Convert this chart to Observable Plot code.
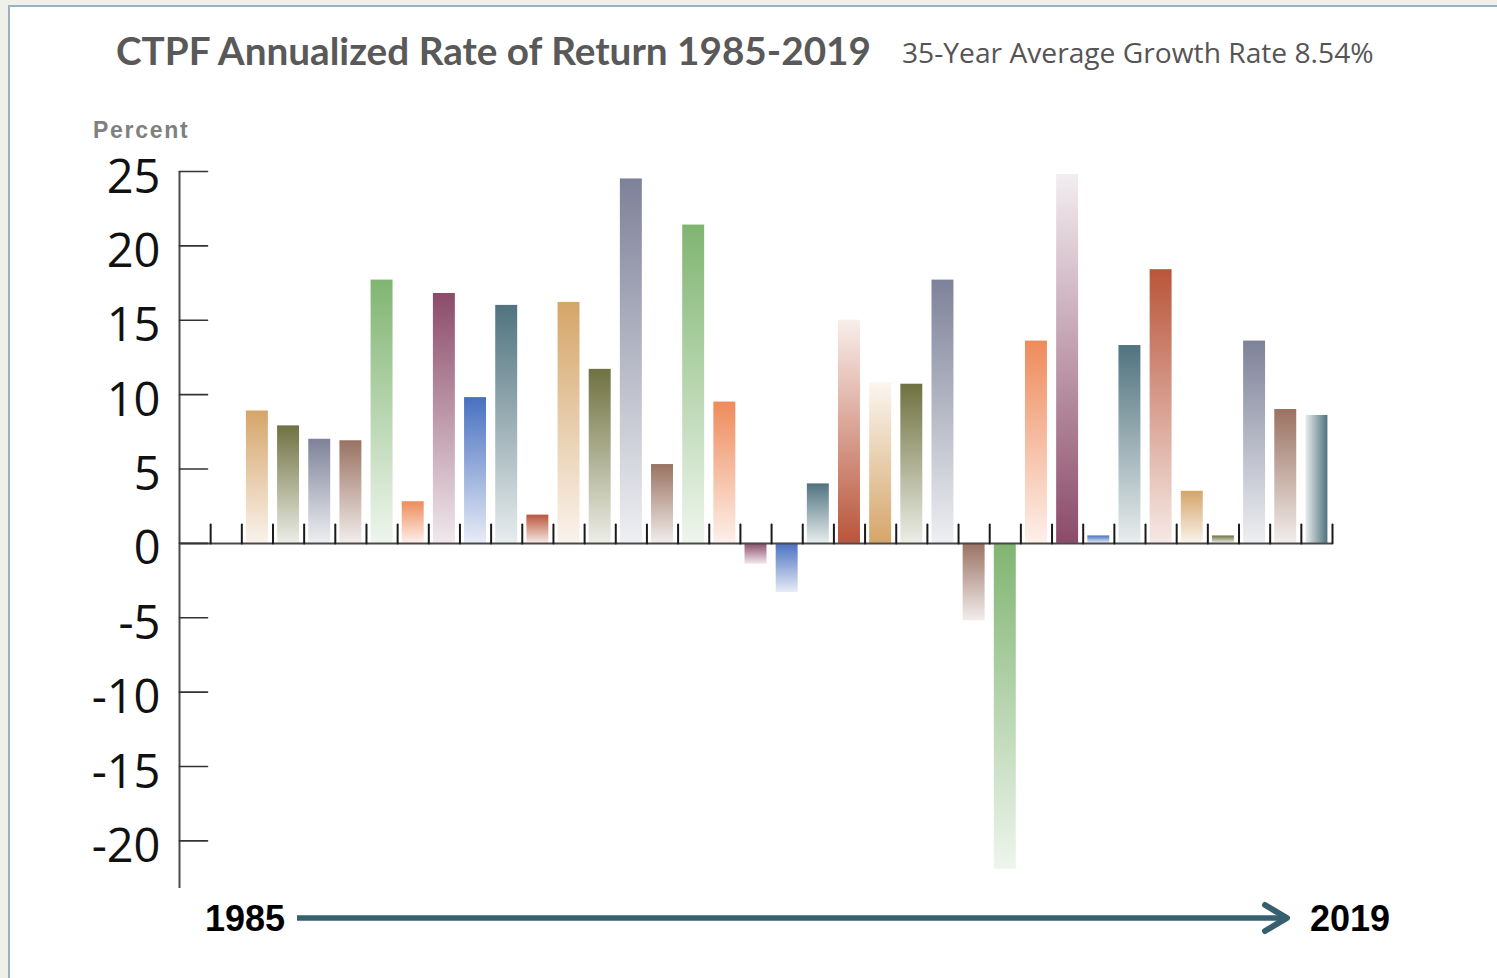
<!DOCTYPE html>
<html>
<head>
<meta charset="utf-8">
<script src="https://cdn.jsdelivr.net/npm/d3@7"></script>
<script src="https://cdn.jsdelivr.net/npm/@observablehq/plot@0.6"></script>
<style>
  html, body { margin: 0; padding: 0; background: #f0f0eb; width: 1497px; height: 978px; overflow: hidden; }
  #frame { position: absolute; left: 8px; top: 5px; width: 1600px; height: 1100px; background: #fff;
           border-left: 2px solid #93b3c2; border-top: 2px solid #93b3c2; }
  #chart { position: absolute; left: 0; top: 0; }
  #overlay { position: absolute; left: 0; top: 0; pointer-events: none; }
</style>
</head>
<body>
<div id="frame"></div>
<div id="chart"></div>
<svg id="overlay" width="1497" height="978"></svg>
<script>
// ---- data ----
const years = [1985, 1986, 1987, 1988, 1989, 1990, 1991, 1992, 1993, 1994,
               1995, 1996, 1997, 1998, 1999, 2000, 2001, 2002, 2003, 2004,
               2005, 2006, 2007, 2008, 2009, 2010, 2011, 2012, 2013, 2014,
               2015, 2016, 2017, 2018, 2019];
const returns = [8.9, 7.9, 7.0, 6.9, 17.7, 2.8, 16.8, 9.8, 16.0, 1.9,
                 16.2, 11.7, 24.5, 5.3, 21.4, 9.5, -1.4, -3.3, 4.0, 15.0,
                 10.8, 10.7, 17.7, -5.2, -21.9, 13.6, 24.8, 0.5, 13.3, 18.4,
                 3.5, 0.5, 13.6, 9.0, 8.6];
const yTicks = [25, 20, 15, 10, 5, 0, -5, -10, -15, -20];
const titleText = "CTPF Annualized Rate of Return 1985-2019";
const subtitleText = "35-Year Average Growth Rate 8.54%";
const yLabel = "Percent";

// ---- styles ----
const palette = ["#d5a569", "#6f7240", "#7e8299", "#9a7262", "#80b571",
                 "#ee8b5b", "#8b4b69", "#4870c0", "#50737f", "#b9553a"];
const colorOverride = {2019: "#50737f"};
const lightTopYears = [2004, 2005, 2011];
const sidewaysYears = [2019];

const data = years.map((year, i) => ({year, value: returns[i], i}));
const xDomain = [years[0] - 2.5, years[years.length - 1] + 0.5];
const bandEdges = d3.range(xDomain[0] + 1, xDomain[1] + 0.01, 1);

const lineShape = {draw(ctx, l) { ctx.moveTo(0, 0); ctx.lineTo(0, -l); }};

const chart = Plot.plot({
  width: 1497,
  height: 900,
  marginTop: 171,
  marginBottom: 12,
  marginLeft: 179,
  marginRight: 165,
  style: {background: "transparent", overflow: "visible"},
  x: {domain: xDomain, axis: null},
  y: {domain: [-23.2, 25], axis: null},
  color: {type: "identity"},
  marks: [
    Plot.rectY(data, {
      x1: d => d.year - 0.5, x2: d => d.year + 0.5,
      y1: 0, y2: "value",
      insetLeft: 4.6, insetRight: 4.6,
      fill: d => `url(#grad-${d.year})`
    }),
    Plot.ruleY([0], {stroke: "#4a4a4a", strokeWidth: 2}),
    Plot.ruleX([xDomain[0]], {stroke: "#4a4a4a", strokeWidth: 2}),
    Plot.vector(bandEdges, {x: d => d, y: 0, length: 19, rotate: 0, anchor: "start",
      shape: lineShape, stroke: "#1a1a1a", strokeWidth: 2}),
    Plot.vector(yTicks, {x: xDomain[0], y: d => d, length: 28, rotate: 90, anchor: "start",
      shape: lineShape, stroke: "#333", strokeWidth: 1.6}),
    Plot.axisY(yTicks, {anchor: "left", tickSize: 0, tickPadding: 19, fontSize: 47, label: null,
      fontFamily: "Open Sans", tickFormat: d => String(d), fill: "#111", dy: 6})
  ]
});

// gradients
const defs = d3.select(chart).insert("defs", ":first-child");
data.forEach(d => {
  const c = colorOverride[d.year] || palette[d.i % palette.length];
  const light = d3.interpolateRgb(c, "#ffffff")(0.87);
  const g = defs.append("linearGradient").attr("id", `grad-${d.year}`);
  let stops;
  if (sidewaysYears.includes(d.year)) {
    g.attr("x1", 0).attr("y1", 0).attr("x2", 1).attr("y2", 0);
    stops = [light, c];
  } else if (lightTopYears.includes(d.year)) {
    g.attr("x1", 0).attr("y1", 0).attr("x2", 0).attr("y2", 1);
    stops = [d3.interpolateRgb(c, "#ffffff")(0.9), c];
  } else {
    g.attr("x1", 0).attr("y1", 0).attr("x2", 0).attr("y2", 1);
    stops = [c, light];
  }
  g.append("stop").attr("offset", "0%").attr("stop-color", stops[0]);
  g.append("stop").attr("offset", "100%").attr("stop-color", stops[1]);
});

document.getElementById("chart").appendChild(chart);

// overlay texts & arrow
const ov = d3.select("#overlay");
ov.append("text").attr("x", 116).attr("y", 65)
  .attr("font-family", "Lato").attr("font-weight", 700).attr("font-size", 38.7)
  .attr("fill", "#595959").text(titleText);
ov.append("text").attr("x", 902).attr("y", 63)
  .attr("font-family", "Open Sans").attr("font-size", 28.2)
  .attr("fill", "#555").text(subtitleText);
ov.append("text").attr("x", 93).attr("y", 138)
  .attr("font-family", "Liberation Sans").attr("font-weight", 700).attr("font-size", 23)
  .attr("letter-spacing", 1.7).attr("fill", "#808080").text(yLabel);
ov.append("text").attr("x", 205).attr("y", 931)
  .attr("font-family", "Liberation Sans").attr("font-weight", 700).attr("font-size", 36)
  .attr("fill", "#000").text(String(years[0]));
ov.append("text").attr("x", 1310).attr("y", 931)
  .attr("font-family", "Liberation Sans").attr("font-weight", 700).attr("font-size", 36)
  .attr("fill", "#000").text(String(years[years.length - 1]));
ov.append("line").attr("x1", 297).attr("y1", 918).attr("x2", 1284).attr("y2", 918)
  .attr("stroke", "#36606f").attr("stroke-width", 5.5);
ov.append("polyline").attr("points", "1265,905 1287,918 1265,931")
  .attr("fill", "none").attr("stroke", "#36606f").attr("stroke-width", 6)
  .attr("stroke-linecap", "round").attr("stroke-linejoin", "round");
</script>
</body>
</html>
